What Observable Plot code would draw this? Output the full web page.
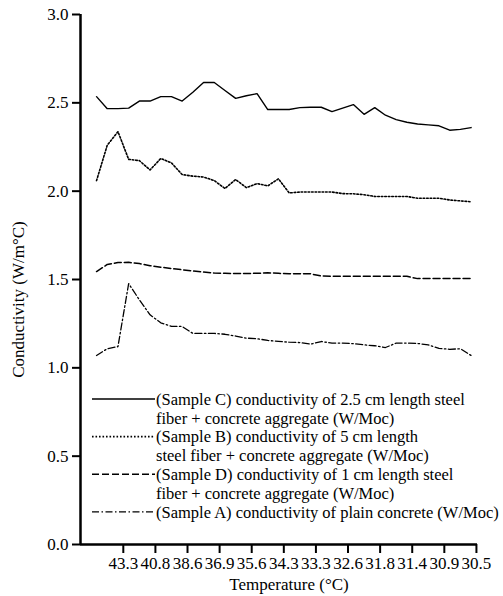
<!DOCTYPE html>
<html><head><meta charset="utf-8">
<script src="https://cdn.jsdelivr.net/npm/d3@7"></script>
<script src="https://cdn.jsdelivr.net/npm/@observablehq/plot@0.6"></script>
<style>
body{margin:0;background:#fff}
#chart{position:relative;width:503px;height:596px;font-family:'Liberation Serif','DejaVu Serif',serif}
#chart svg, #chart text{font-family:'Liberation Serif','DejaVu Serif',serif}
#legend{position:absolute;left:0;top:0}
</style>
</head><body><div id="chart"></div>
<script>
// Temperature tick labels (°C)
const tempLabels = ["43.3","40.8","38.6","36.9","35.6","34.3","33.3","32.6","31.8","31.4","30.9","30.5"];
// Conductivity values (W/m°C), 36 readings per sample
const sampleC = [2.535,2.467,2.467,2.47,2.51,2.51,2.535,2.535,2.51,2.56,2.615,2.615,2.57,2.525,2.54,2.552,2.462,2.462,2.462,2.473,2.475,2.475,2.45,2.47,2.49,2.435,2.473,2.43,2.405,2.39,2.38,2.375,2.37,2.345,2.35,2.36];
const sampleB = [2.06,2.26,2.337,2.18,2.173,2.12,2.185,2.16,2.094,2.085,2.08,2.06,2.015,2.066,2.02,2.043,2.03,2.07,1.99,1.995,1.995,1.995,1.995,1.986,1.985,1.98,1.97,1.97,1.97,1.97,1.96,1.96,1.96,1.95,1.945,1.94];
const sampleD = [1.545,1.585,1.596,1.597,1.59,1.578,1.57,1.562,1.555,1.548,1.542,1.537,1.535,1.534,1.534,1.535,1.538,1.535,1.532,1.532,1.532,1.52,1.518,1.518,1.518,1.518,1.518,1.518,1.518,1.518,1.505,1.505,1.505,1.505,1.505,1.505];
const sampleA = [1.07,1.108,1.12,1.477,1.385,1.30,1.255,1.235,1.234,1.195,1.195,1.195,1.19,1.18,1.168,1.165,1.155,1.15,1.145,1.143,1.134,1.149,1.14,1.14,1.137,1.13,1.125,1.115,1.14,1.14,1.138,1.13,1.11,1.105,1.108,1.07];
const yTicks = [0,0.5,1.0,1.5,2.0,2.5,3.0];
const xTitle = "Temperature (°C)";
const yTitle = "Conductivity (W/m°C)";
const legendLines = [
  ["(Sample C) conductivity of 2.5 cm length steel","fiber + concrete aggregate (W/Moc)"],
  ["(Sample B) conductivity of 5 cm length","steel fiber + concrete aggregate (W/Moc)"],
  ["(Sample D) conductivity of 1 cm length steel","fiber + concrete aggregate (W/Moc)"],
  ["(Sample A) conductivity of plain concrete (W/Moc)"]
];

const FONT = "'Liberation Serif','DejaVu Serif',serif";
const styles = [
  {data: sampleC, dash: null, sw: 1.4},
  {data: sampleB, dash: "1.6,1.9", sw: 1.6},
  {data: sampleD, dash: "7,3", sw: 1.5},
  {data: sampleA, dash: "7,2.5,1.5,2.5", sw: 1.3}
];
const tickPos = tempLabels.map((_, i) => 2.5 + 3 * i);

const lineMarks = styles.map(s => Plot.line(s.data.map((v, i) => ({k: i, v})), {
  x: "k", y: "v", stroke: "black", strokeWidth: s.sw, strokeDasharray: s.dash
}));

const chart = Plot.plot({
  width: 503, height: 596,
  marginLeft: 80, marginRight: 26, marginTop: 14, marginBottom: 52,
  style: {fontFamily: FONT, fontSize: "17px", color: "black", background: "white"},
  x: {domain: [-1.5, 35.6]},
  y: {domain: [0, 3]},
  marks: [
    Plot.axisX({ticks: tickPos, tickFormat: (d, i) => tempLabels[i], tickSize: 9, tickPadding: 3, strokeWidth: 2,
      label: null, fontSize: 17}),
    Plot.axisY({ticks: yTicks, tickFormat: d3.format(".1f"), tickSize: 8, tickPadding: 4, strokeWidth: 2,
      label: null, fontSize: 17}),
    Plot.text([xTitle], {text: d => d, frameAnchor: "bottom", textAnchor: "middle", dx: 10, dy: 40, fontSize: 17, lineAnchor: "middle"}),
    Plot.text([yTitle], {text: d => d, frameAnchor: "left", textAnchor: "middle", rotate: -90, dx: -62, dy: 20, fontSize: 17, lineAnchor: "middle"}),
    Plot.ruleY([0], {strokeWidth: 2.5}),
    Plot.ruleX([-1.5], {strokeWidth: 2.5}),
    ...lineMarks
  ]
});
const root = document.getElementById("chart");
root.appendChild(chart);

// Legend overlay
const svg = d3.select(root).append("svg").attr("id", "legend").attr("width", 503).attr("height", 596);
const rowH = 18.8;
let row = 0;
legendLines.forEach((lines, j) => {
  const y0 = 399 + row * rowH;
  const sline = svg.append("line").attr("x1", 92).attr("x2", 155).attr("y1", y0).attr("y2", y0)
    .attr("stroke", "black").attr("stroke-width", styles[j].sw);
  if (styles[j].dash) sline.attr("stroke-dasharray", styles[j].dash);
  lines.forEach((t, m) => {
    svg.append("text").attr("x", 156).attr("y", y0 + m * rowH).attr("dy", "0.35em")
      .style("font-size", "16.5px").style("font-family", FONT).text(t);
  });
  row += lines.length;
});
</script>
</body></html>
